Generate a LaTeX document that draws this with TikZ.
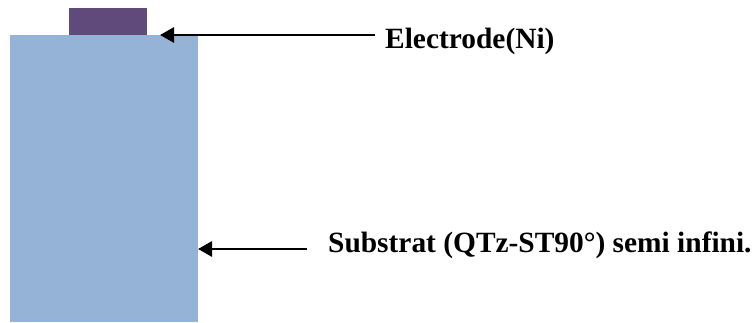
\documentclass[tikz,border=0pt]{standalone}
\usepackage{fontspec}
\setmainfont{Liberation Serif}
\usetikzlibrary{arrows.meta}
\definecolor{subblue}{HTML}{95B3D7}
\definecolor{elecpurple}{HTML}{604A7B}
\begin{document}
\begin{tikzpicture}[x=1pt,y=-1pt,
  block/.style={draw=none,inner sep=0pt,outer sep=0pt,anchor=north west},
  lbl/.style={inner sep=0pt,anchor=base west,font=\bfseries\fontsize{29.4}{34}\selectfont},
  pointer/.style={line width=2.8pt,-{Triangle[length=14pt,width=15pt]}}]
\useasboundingbox (0,0) rectangle (755,322);
\node[block,fill=subblue,minimum width=188pt,minimum height=287pt] (sub) at (10,35) {};
\node[block,fill=elecpurple,minimum width=78pt,minimum height=27pt] (elec) at (69,8) {};
\node[lbl] (tel) at (385,48) {Electrode(Ni)};
\node[lbl] (tsub) at (328,252) {Substrat (QTz-ST90°) semi infini.};
\coordinate (s1) at (375,35);
\coordinate (e1) at (160,35);
\coordinate (s2) at (307,249);
\draw[pointer] (s1) -- (e1);
\draw[pointer] (s2) -- (sub.east |- s2);
\end{tikzpicture}
\end{document}
